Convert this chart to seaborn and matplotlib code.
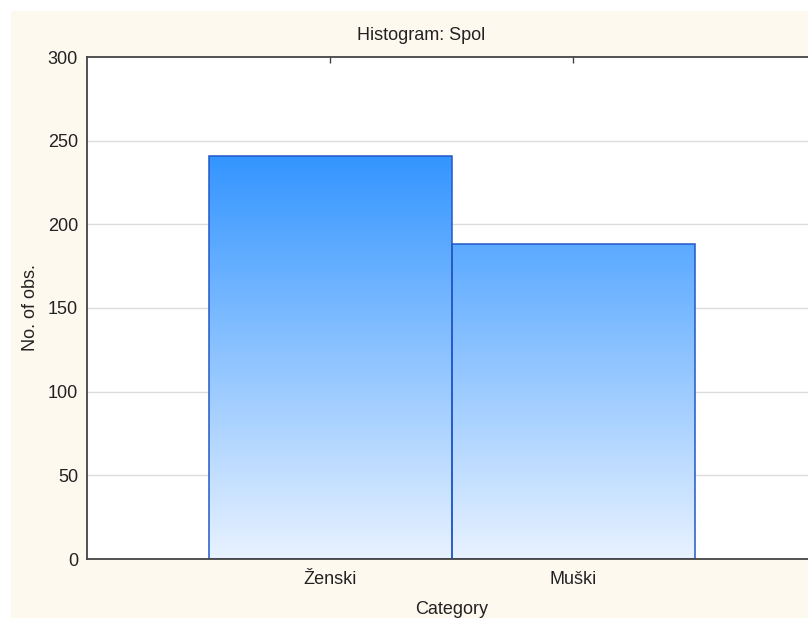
import numpy as np
import pandas as pd
import matplotlib.pyplot as plt
import seaborn as sns
from matplotlib.colors import LinearSegmentedColormap

categories = ['Ženski', 'Muški']
counts = [241, 188]
yticks = [0, 50, 100, 150, 200, 250, 300]

df = pd.DataFrame({'category': categories, 'count': counts})

sns.set_style('white')
plt.rcParams['font.family'] = ['Liberation Sans', 'DejaVu Sans']

W, H = 808, 618
fs = 13
fig = plt.figure(figsize=(W / 100, H / 100), dpi=100)
fig.patch.set_facecolor('white')
# cream panel, leaving a thin white strip at top and left
fig.patches.append(plt.Rectangle((11 / W, 0), 1, (H - 11) / H, transform=fig.transFigure,
                                 facecolor='#FEF9EE', edgecolor='none', zorder=-10))

# axes runs past the right edge of the picture, as in the reference
ax = fig.add_axes([87 / W, (H - 559) / H, 729 / W, 502 / H])
ax.set_facecolor('white')

sns.barplot(data=df, x='category', y='count', width=1, color='none', fill=False,
            edgecolor='#2258C8', linewidth=1.1, ax=ax, zorder=3)

# vertical gradient fill, clipped to each bar
cmap = LinearSegmentedColormap.from_list('grad', ['#E8F2FF', '#3395FF'])
grad = np.linspace(0, 1, 256).reshape(-1, 1)
top = max(counts)
for p in ax.patches:
    im = ax.imshow(grad, cmap=cmap, origin='lower', aspect='auto',
                   extent=(p.get_x(), p.get_x() + p.get_width(), 0, top), zorder=2)
    im.set_clip_path(p)

ax.set_xlim(-1, 2)
ax.set_ylim(0, 300)
ax.set_yticks(yticks)
# grid drawn by hand so the ticks can sit above the bars
for y in yticks[1:-1]:
    ax.axhline(y, color='#DCDCDC', lw=1, zorder=1)
ax.set_axisbelow(False)
ax.xaxis.set_zorder(4)
ax.yaxis.set_zorder(4)

for s in ax.spines.values():
    s.set_visible(True)
    s.set_color('#444444')
    s.set_linewidth(1.3)
    s.set_zorder(4)

ax.tick_params(direction='in', length=4, width=1, color='#444444', top=True,
               labelsize=fs, pad=6.5, labelcolor='#222222')
ax.tick_params(axis='x', pad=9)
ax.set_xlabel('Category', fontsize=fs, color='#222222', labelpad=9)
ax.set_ylabel('No. of obs.', fontsize=fs, color='#222222', labelpad=6.5)

fig.text(421 / W, 1 - 39.5 / H, 'Histogram: Spol', ha='center', va='baseline',
         fontsize=fs, color='#222222')

fig.savefig('out.png', dpi=100)
